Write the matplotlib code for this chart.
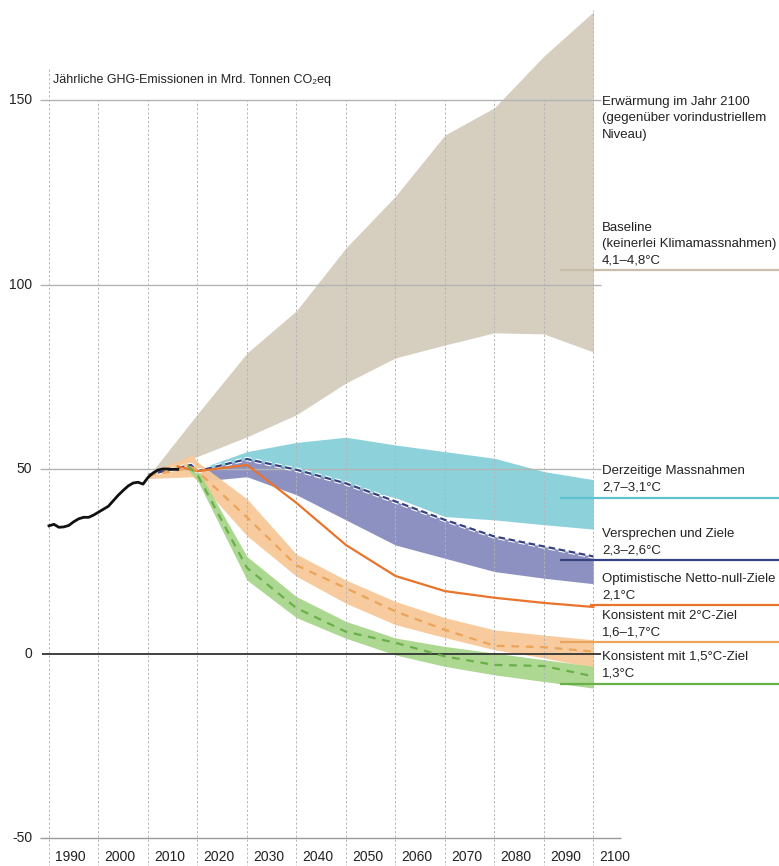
# plot.py
# GHG emission pathways until 2100 (CAT style chart)

#####################################################################

# LIBRARIES

from matplotlib import rcParams
from matplotlib.pyplot import figure
from matplotlib import patheffects

rcParams['font.family'] = ['Liberation Sans', 'DejaVu Sans']

#####################################################################

# DATA

# historical emissions
hist_years = list(range(1990, 2017))
hist_vals  = [34.7, 35.1, 34.3, 34.4, 34.8, 35.8, 36.6, 37.0, 37.0, 37.6,
              38.4, 39.2, 40.0, 41.5, 43.0, 44.3, 45.5, 46.3, 46.5, 46.0,
              47.8, 49.0, 49.8, 50.1, 50.1, 50.0, 50.0]

# baseline (no climate policy)
base_years = [2010, 2020, 2030, 2040, 2050, 2060, 2070, 2080, 2090, 2100]
base_lo    = [48.0, 53.5, 58.8, 64.8, 73.4, 80.2, 83.7, 87.0, 86.7, 81.8]
base_hi    = [48.0, 65.0, 81.5, 93.0, 110.0, 124.0, 140.6, 148.0, 162.0, 174.0]

# current policies
cur_years = [2020, 2030, 2040, 2050, 2060, 2070, 2080, 2090, 2100]
cur_lo    = [48.0, 51.0, 48.5, 45.5, 42.3, 37.2, 36.3, 35.0, 33.8]
cur_hi    = [50.0, 54.8, 57.3, 58.7, 56.6, 54.8, 53.0, 49.4, 47.2]

# pledges and targets
pl_years  = [2020, 2030, 2040, 2050, 2060, 2070, 2080, 2090, 2100]
pl_lo     = [46.7, 48.0, 43.1, 36.3, 29.5, 25.9, 22.3, 20.5, 19.0]
pl_hi     = [49.5, 52.8, 49.9, 46.2, 41.3, 36.3, 31.8, 29.1, 26.4]
pld_years = [2010, 2018.7] + pl_years
pld_vals  = [48.5, 51.2] + pl_hi

# optimistic net zero targets
nz_years = [2016, 2020, 2030, 2040, 2050, 2060, 2070, 2080, 2090, 2100]
nz_vals  = [50.8, 49.5, 51.2, 40.9, 29.5, 21.1, 17.0, 15.2, 13.8, 12.7]

# consistent with 2 degrees
t2_years = [2010, 2019, 2020, 2030, 2040, 2050, 2060, 2070, 2080, 2090, 2100]
t2_lo    = [47.5, 48.0, 47.0, 32.0, 21.0, 13.7, 7.9, 4.4, 1.1, -1.1, -3.8]
t2_hi    = [49.0, 54.0, 52.0, 42.0, 27.0, 20.0, 14.2, 9.8, 6.5, 5.1, 3.8]
t2_mid   = [48.3, 50.5, 49.5, 37.0, 24.0, 17.8, 11.5, 6.5, 2.2, 1.8, 0.6]

# consistent with 1.5 degrees
t15_years = [2018, 2020, 2030, 2040, 2050, 2060, 2070, 2080, 2090, 2100]
t15_lo    = [50.0, 47.0, 20.0, 9.8, 4.2, -0.3, -3.4, -5.7, -7.5, -9.3]
t15_hi    = [52.0, 50.0, 26.4, 15.5, 8.8, 4.3, 2.0, 0.2, -1.6, -3.4]
t15_mid   = [51.0, 48.5, 23.3, 12.4, 6.0, 3.0, -0.7, -3.0, -3.3, -6.1]

# axes ticks
x_ticks = list(range(1990, 2101, 10))
y_ticks = [150, 100, 50, 0, -50]

# right hand labels: (text, top of text, marker level, marker start)
labels = [
    ("Erwärmung im Jahr 2100\n(gegenüber vorindustriellem\nNiveau)", 151.3, None, None),
    ("Baseline\n(keinerlei Klimamassnahmen)\n4,1–4,8°C", 117.1, 104.1, 2093.2),
    ("Derzeitige Massnahmen\n2,7–3,1°C", 51.2, 42.3, 2093.2),
    ("Versprechen und Ziele\n2,3–2,6°C", 34.1, 25.5, 2093.2),
    ("Optimistische Netto-null-Ziele\n2,1°C", 21.9, 13.3, 2099.3),
    ("Konsistent mit 2°C-Ziel\n1,6–1,7°C", 11.9, 3.25, 2093.2),
    ("Konsistent mit 1,5°C-Ziel\n1,3°C", 0.8, -8.1, 2093.2),
]

title = "Jährliche GHG-Emissionen in Mrd. Tonnen CO₂eq"

#####################################################################

# COLOURS

c_base   = "#d6cebf"
c_base_l = "#c8bea9"
c_cur    = "#8dd2db"
c_cur_l  = "#5fc3cf"
c_pl     = "#8d91c1"
c_pl_l   = "#35427f"
c_nz     = "#e8742c"
c_t2     = "#f7c999"
c_t2_l   = "#eba45a"
c_t15    = "#a9d68b"
c_t15_l  = "#6ab04a"
c_grid   = "#b4b4b4"
c_text   = "#222222"

label_colors = [None, c_base_l, c_cur_l, c_pl_l, c_nz, c_t2_l, c_t15_l]

#####################################################################

# FIGURE

fg = figure(figsize = (7.79, 8.66), dpi = 100)
ax = fg.add_axes([0, 0, 1, 1])
ax.set_xlim(1980.1, 2137.5)
ax.set_ylim(-57.5, 177.2)
ax.axis("off")

# vertical dotted grid
for x in x_ticks:
    top = 174.5 if x == 2100 else 150
    if x == 1990: top = 158.5
    ax.vlines(x, -60, top, color = c_grid, linewidth = 0.7,
        linestyle = (0, (2.2, 2.2)), zorder = 4)

# horizontal grid
for y in [150, 100, 50]:
    ax.hlines(y, 1988.2, 2101.5, color = c_grid, linewidth = 1.0, zorder = 4)
ax.hlines(-50, 1988.2, 2105.5, color = "#9a9a9a", linewidth = 1.0, zorder = 4)
ax.hlines(0, 1988.6, 2101.5, color = "#333333", linewidth = 1.3, zorder = 5)

# bands
ax.fill_between(base_years, base_lo, base_hi, color = c_base, lw = 0, zorder = 1)
ax.fill_between(cur_years, cur_lo, cur_hi, color = c_cur, lw = 0, zorder = 2)
ax.fill_between(pl_years, pl_lo, pl_hi, color = c_pl, lw = 0, zorder = 2.1)
ax.fill_between(t2_years, t2_lo, t2_hi, color = c_t2, lw = 0, alpha = 0.95, zorder = 2.2)
ax.fill_between(t15_years, t15_lo, t15_hi, color = c_t15, lw = 0, alpha = 0.95, zorder = 2.3)

# lines
white = [patheffects.withStroke(linewidth = 3.2, foreground = "white")]
ax.plot(pld_years, pld_vals, color = c_pl_l, linewidth = 1.6,
    linestyle = (0, (3, 1.6)), path_effects = white, zorder = 6)
ax.plot(nz_years, nz_vals, color = c_nz, linewidth = 1.6, zorder = 6)
ax.plot(t2_years, t2_mid, color = c_t2_l, linewidth = 1.6,
    linestyle = (0, (3.5, 3)), zorder = 6)
ax.plot(t15_years, t15_mid, color = c_t15_l, linewidth = 1.6,
    linestyle = (0, (3.5, 3)), zorder = 6)
ax.plot(hist_years, hist_vals, color = "#111111", linewidth = 2.0, zorder = 7)

# tick labels
for y in y_ticks:
    ax.text(1986.6, y, f"{y}", ha = "right", va = "center",
        fontsize = 10, color = c_text)
for x in x_ticks:
    ax.text(x + 1.2, -55.0, f"{x}", ha = "left", va = "center",
        fontsize = 10, color = c_text)

# title
ax.text(1990.8, 155.6, title, ha = "left", va = "center",
    fontsize = 9, color = c_text)

# right hand labels and markers
for (t, top, lvl, start), c in zip(labels, label_colors):
    ax.text(2101.7, top, t, ha = "left", va = "top", fontsize = 9.5,
        linespacing = 1.5, color = c_text)
    if lvl is not None:
        ax.hlines(lvl, start, 2137.5, color = c, linewidth = 1.6, zorder = 6)

fg.savefig("out.png", dpi = 100)
